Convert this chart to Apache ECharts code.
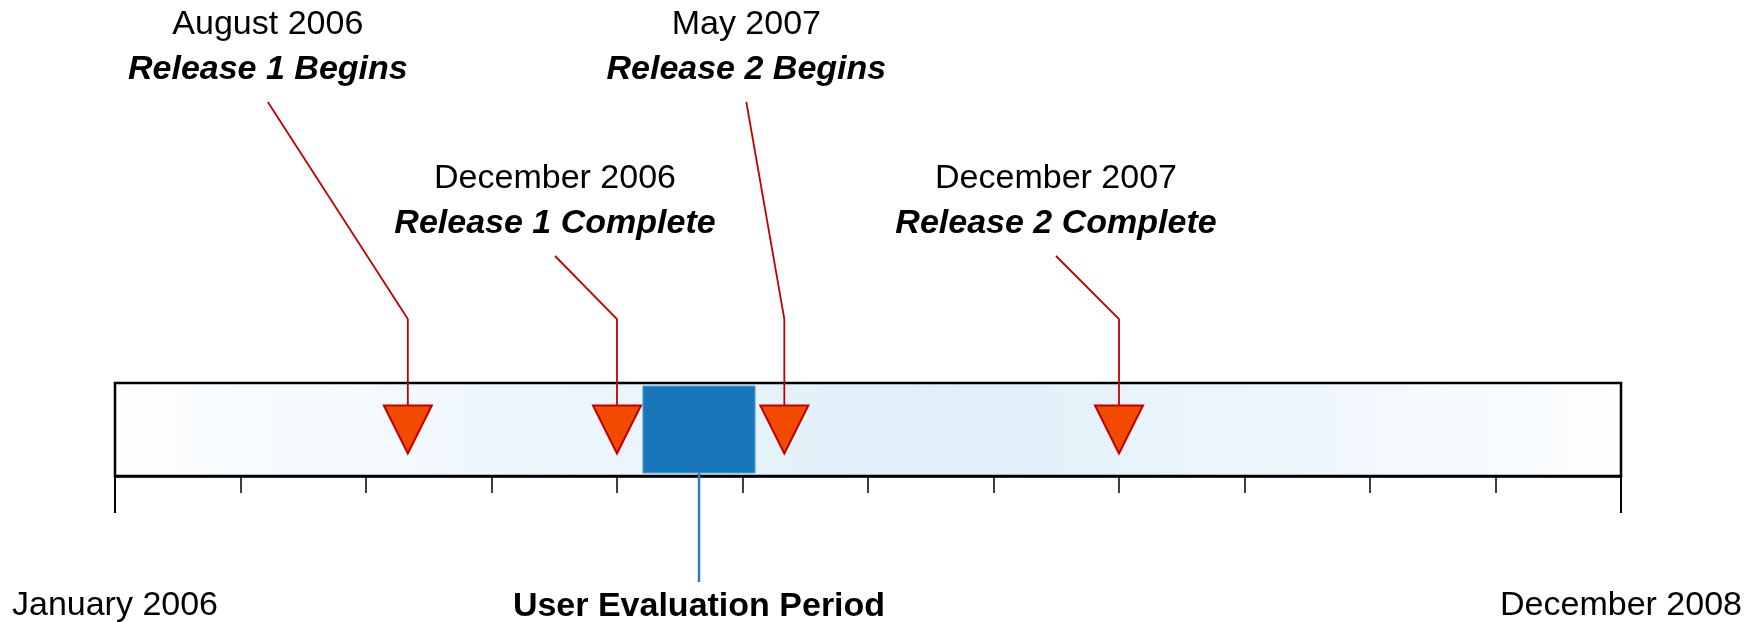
<!DOCTYPE html>
<html lang="en">
  <head>
    <meta charset="UTF-8" />
    <title>Release timeline</title>
    <script src="https://cdn.jsdelivr.net/npm/echarts@6/dist/echarts.min.js"></script>
    <style>
      html, body { margin: 0; padding: 0; background: #fff; }
    </style>
  </head>
  <body>
    <div id="main" style="width: 1763px; height: 622px"></div>
    <script type="text/javascript">
      // months counted from January 2006 (0) to the end of December 2008 (36)
      let axisMin = 0
      let axisMax = 36
      let tickStep = 3
      let endLabels = ["January 2006", "December 2008"]

      // milestones
      let eventMonths = [7, 12, 16, 24]
      let eventDates = ["August 2006", "December 2006", "May 2007", "December 2007"]
      let eventTitles = ["Release 1 Begins", "Release 1 Complete", "Release 2 Begins", "Release 2 Complete"]

      // user evaluation period (start, end in months)
      let evalPeriod = [12.62, 15.3]
      let evalLabel = "User Evaluation Period"

      // label placement (layout only)
      let labelShift = [-140, -62, -38, -63]
      let labelTier = [0, 1, 0, 1]

      const FONT = "'Liberation Sans', Arial, sans-serif"
      const RED = "#c00000"

      let myChart = echarts.init(document.getElementById("main"))

      let options = {
        animation: false,
        grid: {
          left: 115,
          right: 142,
          top: 383,
          bottom: 146,
          outerBoundsMode: "none",
          show: true,
          borderColor: "#000",
          borderWidth: 2.5,
          backgroundColor: new echarts.graphic.LinearGradient(0, 0, 1, 0, [
            { offset: 0, color: "#fdfeff" },
            { offset: 0.55, color: "#e0eff9" },
            { offset: 1, color: "#fdfeff" },
          ]),
        },
        xAxis: [
          {
            type: "value",
            min: axisMin,
            max: axisMax,
            interval: tickStep,
            position: "bottom",
            axisLine: { show: true, lineStyle: { color: "#000", width: 2.5 } },
            axisTick: { show: true, length: 17, lineStyle: { color: "#000", width: 1.5 } },
            axisLabel: { show: false },
            splitLine: { show: false },
          },
          {
            type: "value",
            min: axisMin,
            max: axisMax,
            interval: axisMax - axisMin,
            position: "bottom",
            axisLine: { show: false },
            axisTick: { show: true, length: 37, lineStyle: { color: "#000", width: 2 } },
            axisLabel: {
              show: true,
              margin: 113,
              fontFamily: FONT,
              fontSize: 34,
              color: "#000",
              formatter: (v) => (v === axisMin ? endLabels[0] : v === axisMax ? endLabels[1] : ""),
            },
            splitLine: { show: false },
          },
        ],
        yAxis: { type: "value", min: 0, max: 100, show: false },
        series: [
          {
            // leader lines and milestone captions
            type: "custom",
            z: 2,
            data: eventMonths.map((m, i) => [m, i]),
            renderItem: (params, api) => {
              let i = api.value(1)
              let p = api.coord([api.value(0), 50])
              let top = api.coord([api.value(0), 100])[1]
              let tx = p[0] + labelShift[i]
              let base = labelTier[i] === 0 ? 0 : 154
              let elbow = top - 64
              return {
                type: "group",
                children: [
                  {
                    type: "polyline",
                    shape: { points: [[tx, base + 102], [p[0], elbow], [p[0], p[1] - 24]] },
                    style: { stroke: RED, lineWidth: 1.8, fill: null },
                  },
                  {
                    type: "text",
                    style: {
                      text: eventDates[i], x: tx, y: base + 24.5, align: "center", verticalAlign: "middle",
                      fontFamily: FONT, fontSize: 34, fill: "#000",
                    },
                  },
                  {
                    type: "text",
                    style: {
                      text: eventTitles[i], x: tx, y: base + 70, align: "center", verticalAlign: "middle",
                      fontFamily: FONT, fontSize: 34, fontWeight: "bold", fontStyle: "italic", fill: "#000",
                    },
                  },
                ],
              }
            },
          },
          {
            // evaluation period block
            type: "custom",
            z: 3,
            data: [[evalPeriod[0], evalPeriod[1]]],
            renderItem: (params, api) => {
              let a = api.coord([api.value(0), 100])
              let b = api.coord([api.value(1), 0])
              let mid = (a[0] + b[0]) / 2
              return {
                type: "group",
                children: [
                  {
                    type: "rect",
                    shape: { x: a[0], y: a[1] + 3, width: b[0] - a[0], height: b[1] - a[1] - 6 },
                    style: { fill: "#1777ba", stroke: "#5aa3d6", lineWidth: 1 },
                  },
                  {
                    type: "line",
                    shape: { x1: mid, y1: b[1] - 3, x2: mid, y2: b[1] + 106 },
                    style: { stroke: "#2a7fc0", lineWidth: 2.5 },
                  },
                  {
                    type: "text",
                    style: {
                      text: evalLabel, x: mid, y: b[1] + 131, align: "center", verticalAlign: "middle",
                      fontFamily: FONT, fontSize: 34, fontWeight: "bold", fill: "#000",
                    },
                  },
                ],
              }
            },
          },
          {
            // milestone markers
            type: "scatter",
            z: 4,
            symbol: "path://M0,0 L2,0 L1,2 Z",
            symbolSize: [48, 48],
            itemStyle: { color: "#f24a00", borderColor: RED, borderWidth: 2, opacity: 1 },
            data: eventMonths.map((m) => [m, 50]),
          },
        ],
      }

      myChart.setOption(options)
    </script>
  </body>
</html>
